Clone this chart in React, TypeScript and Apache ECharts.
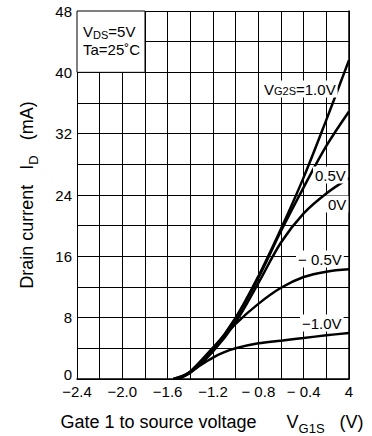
import React, { useEffect, useRef } from "react";
import * as echarts from "echarts";

const FONT = "'Liberation Sans', Arial, Helvetica, sans-serif";

// Axis ticks
const xTickLabels = ["−2.4", "", "−2.0", "", "−1.6", "", "−1.2", "", "− 0.8", "", "− 0.4", "", "4"];
const yTickLabels = ["0", "", "8", "", "16", "", "24", "", "32", "", "40", "", "48"];

// Curves: [V_G1S (V), I_D (mA)]
const vg2sP10: [number, number][] = [[-1.55, 0], [-1.4, 0.9], [-1.2, 3.9], [-1.0, 8.0], [-0.8, 13.4], [-0.6, 19.6], [-0.4, 26.3], [-0.2, 33.8], [0, 41.6]];
const vg2sP05: [number, number][] = [[-1.55, 0], [-1.4, 0.9], [-1.2, 3.8], [-1.0, 7.9], [-0.8, 13.2], [-0.6, 19.3], [-0.4, 25.0], [-0.2, 30.4], [0, 34.9]];
const vg2s0: [number, number][] = [[-1.52, 0], [-1.4, 0.8], [-1.2, 3.6], [-1.0, 7.4], [-0.8, 12.5], [-0.6, 17.8], [-0.4, 21.6], [-0.2, 24.2], [0, 26.2]];
const vg2sM05: [number, number][] = [[-1.52, 0], [-1.4, 1.0], [-1.2, 4.1], [-1.0, 7.2], [-0.8, 9.8], [-0.6, 11.9], [-0.4, 13.3], [-0.2, 14.0], [0, 14.3]];
const vg2sM10: [number, number][] = [[-1.5, 0], [-1.4, 0.9], [-1.3, 1.9], [-1.2, 2.8], [-1.1, 3.5], [-1.0, 4.0], [-0.8, 4.65], [-0.6, 5.0], [-0.4, 5.35], [-0.2, 5.7], [0, 6.0]];

const seriesList: { name: string; data: [number, number][] }[] = [
  { name: "1.0V", data: vg2sP10 },
  { name: "0.5V", data: vg2sP05 },
  { name: "0V", data: vg2s0 },
  { name: "-0.5V", data: vg2sM05 },
  { name: "-1.0V", data: vg2sM10 },
];

const subAxis = { fontSize: 13, fontFamily: FONT, lineHeight: 13, padding: [12, 0, 0, 0] };

export default function App() {
  const ref = useRef<HTMLDivElement>(null);
  useEffect(() => {
    if (!ref.current) return;
    const chart = echarts.init(ref.current, undefined, { renderer: "svg" });
    const labelStyle = (text: string, extra: any = {}) => ({
      text,
      fill: "#000",
      fontSize: 15,
      fontFamily: FONT,
      backgroundColor: "#fff",
      padding: [1, 2],
      verticalAlign: "middle",
      ...extra,
    });
    chart.setOption({
      animation: false,
      backgroundColor: "#fff",
      grid: { left: 77, right: 23, top: 11, bottom: 57, containLabel: false, outerBoundsMode: "none" },
      xAxis: {
        type: "value",
        min: -2.4,
        max: 0,
        interval: 0.2,
        name: "Gate 1 to source voltage      V{s|G1S}   (V)",
        nameLocation: "middle",
        nameGap: 30,
        nameTextStyle: {
          color: "#000",
          fontSize: 18,
          fontFamily: FONT,
          lineHeight: 26,
          padding: [0, 2, 0, 0],
          rich: { s: subAxis },
        },
        axisLine: { show: true, onZero: false, lineStyle: { color: "#000", width: 1.5 } },
        axisTick: { show: false },
        axisLabel: {
          color: "#000",
          fontSize: 15,
          fontFamily: FONT,
          lineHeight: 16,
          margin: 4,
          formatter: (_v: number, i: number) => xTickLabels[i] ?? "",
        },
        splitLine: { show: true, lineStyle: { color: "#000", width: 1 } },
      },
      yAxis: {
        type: "value",
        min: 0,
        max: 48,
        interval: 4,
        name: "Drain current   I{s|D}   (mA)",
        nameLocation: "middle",
        nameGap: 37,
        nameTextStyle: {
          color: "#000",
          fontSize: 18,
          fontFamily: FONT,
          lineHeight: 26,
          rich: { s: subAxis },
        },
        axisLine: { show: true, lineStyle: { color: "#000", width: 1.5 } },
        axisTick: { show: false },
        axisLabel: {
          color: "#000",
          fontSize: 15,
          fontFamily: FONT,
          lineHeight: 10,
          margin: 5,
          formatter: (_v: number, i: number) => (i === 0 ? `{z|${yTickLabels[i]}}` : yTickLabels[i] ?? ""),
          rich: { z: { fontSize: 15, fontFamily: FONT, color: "#000", lineHeight: 10, padding: [0, 0, 10, 0] } },
        },
        splitLine: { show: true, lineStyle: { color: "#000", width: 1 } },
      },
      series: seriesList.map((s, idx) => ({
        type: "line",
        name: s.name,
        data: s.data,
        smooth: 0.35,
        symbol: "none",
        lineStyle: { color: "#000", width: 2.5 },
        z: 3,
        ...(idx === 0
          ? {
              markArea: {
                silent: true,
                itemStyle: { color: "#fff", borderColor: "#000", borderWidth: 1 },
                data: [[{ xAxis: -2.4, yAxis: 40 }, { xAxis: -1.8, yAxis: 48 }]],
              },
            }
          : {}),
      })),
      graphic: [
        {
          type: "text",
          x: 83,
          y: 31,
          z: 100,
          style: {
            text: "V{s|DS}=5V",
            fill: "#000",
            fontSize: 15,
            fontFamily: FONT,
            lineHeight: 22,
            verticalAlign: "middle",
            rich: { s: { fontSize: 11, fontFamily: FONT, lineHeight: 11, padding: [7, 0, 0, 0] } },
          },
        },
        {
          type: "text",
          x: 83,
          y: 49,
          z: 100,
          style: { text: "Ta=25˚C", fill: "#000", fontSize: 15, fontFamily: FONT, verticalAlign: "middle" },
        },
        {
          type: "text",
          x: 262,
          y: 89,
          z: 100,
          style: labelStyle("V{s|G2S}=1.0V", {
            rich: { s: { fontSize: 11, fontFamily: FONT, lineHeight: 11, padding: [3, 0, 0, 0] } },
          }),
        },
        { type: "text", x: 313, y: 175, z: 100, style: labelStyle("0.5V") },
        { type: "text", x: 326, y: 204, z: 100, style: labelStyle("0V") },
        { type: "text", x: 296, y: 259, z: 100, style: labelStyle("− 0.5V") },
        { type: "text", x: 300, y: 323, z: 100, style: labelStyle("−1.0V") },
      ],
    });
    return () => chart.dispose();
  }, []);
  return (
    <div
      ref={ref}
      style={{ position: "absolute", left: 0, top: 0, width: 372, height: 436 }}
    />
  );
}
